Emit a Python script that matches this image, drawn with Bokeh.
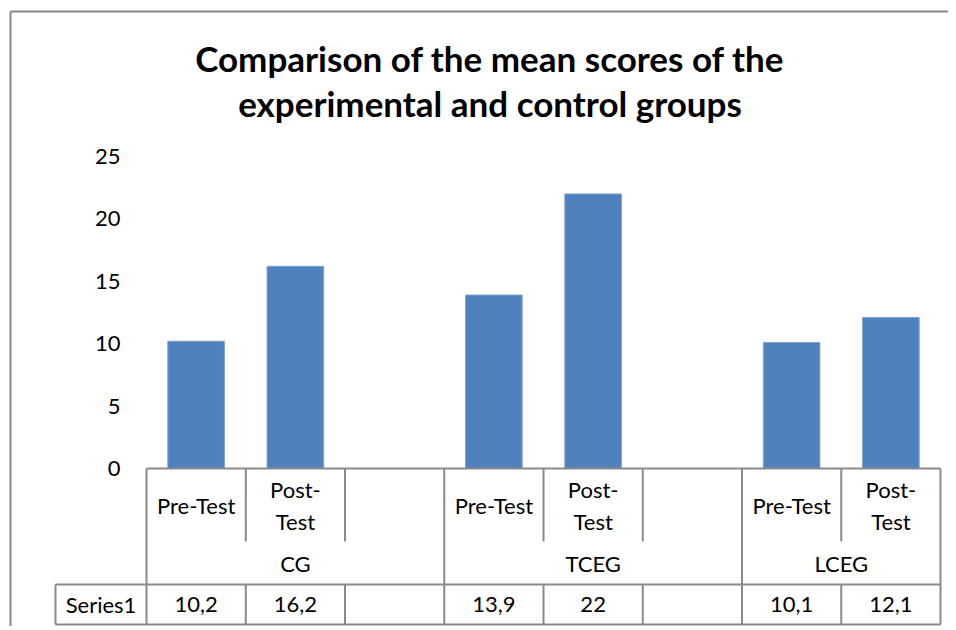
from bokeh.plotting import figure
from bokeh.models import Range1d, FixedTicker
from bokeh.core.properties import value
from bokeh.embed import file_html
from bokeh.resources import INLINE

# ---------------- data ----------------
title_lines = ["Comparison of the mean scores of the", "experimental and control groups"]
groups = ["CG", "TCEG", "LCEG"]
group_sizes = [3, 3, 2]
categories = ["Pre-Test", "Post-Test", "", "Pre-Test", "Post-Test", "", "Pre-Test", "Post-Test"]
values = [10.2, 16.2, None, 13.9, 22.0, None, 10.1, 12.1]
value_labels = ["10,2", "16,2", "", "13,9", "22", "", "10,1", "12,1"]
series_name = "Series1"
y_ticks = [0, 5, 10, 15, 20, 25]

# ---------------- layout (pixel reference) ----------------
W, H = 948, 626
PAGE = 0
SLOT_PX = 99.25     # width of one category slot
X0_PX = 146         # left edge of first slot (page px)
Y0_PX = 468         # y=0 (page px)
UNIT_PX = 12.48     # px per unit of value

def rx(px):
    return (px - X0_PX) / SLOT_PX

def ry(px):
    return (Y0_PX - px) / UNIT_PX

FONT = "Lato"
GRID = "#8a8a8a"
BAR = "#4F81BD"
FS = "22px"

p = figure(width=W, height=H, output_backend="svg", toolbar_location=None,
           x_range=Range1d(rx(PAGE), rx(PAGE + W)),
           y_range=Range1d(ry(PAGE + H), ry(PAGE)),
           min_border=0, x_axis_location=None)
p.outline_line_color = None
p.grid.visible = False
p.background_fill_color = "white"
p.border_fill_color = "white"

# y axis placed inside the frame
ax = p.yaxis[0]
ax.fixed_location = rx(X0_PX - 26)
ax.ticker = FixedTicker(ticks=y_ticks)
ax.axis_line_color = None
ax.major_tick_line_color = None
ax.minor_tick_line_color = None
ax.major_tick_out = 0
ax.major_tick_in = 0
ax.major_label_standoff = 0
ax.major_label_text_font = FONT
ax.major_label_text_font_size = FS
ax.major_label_text_color = "black"

# bars
n = len(categories)
bx = [i + 0.5 for i in range(n) if values[i] is not None]
bt = [v for v in values if v is not None]
p.vbar(x=bx, top=bt, bottom=0, width=0.57, fill_color=BAR, line_color="#7da2d0", line_width=1)

# chart border (top + left)
p.segment(x0=[rx(10), rx(10)], y0=[ry(11), ry(11)], x1=[rx(PAGE + W), rx(10)], y1=[ry(11), ry(PAGE + H)],
          line_color="#878787", line_width=2)

# table lines
bottom = ry(624)
row_top = ry(584)
short_end = ry(541)
bounds = [0]
for s in group_sizes:
    bounds.append(bounds[-1] + s)
x0s, y0s, x1s, y1s = [], [], [], []
x0s += [0, rx(55), rx(55)]
x1s += [n, n, n]
y0s += [0, row_top, bottom]
y1s += [0, row_top, bottom]
for b in range(n + 1):
    if b in bounds:
        x0s.append(b); x1s.append(b); y0s.append(0); y1s.append(bottom)
    else:
        x0s += [b, b]; x1s += [b, b]; y0s += [0, row_top]; y1s += [short_end, bottom]
x0s.append(rx(55)); x1s.append(rx(55)); y0s.append(row_top); y1s.append(bottom)
p.segment(x0=x0s, y0=y0s, x1=x1s, y1=y1s, line_color=GRID, line_width=2)

# category labels
cat_text = [c.replace("Post-Test", "Post-\nTest") for c in categories]
p.text(x=[i + 0.5 for i in range(n)], y=[ry(505)] * n, text=cat_text,
       text_font=value(FONT), text_font_size=FS, text_align="center",
       text_baseline="middle", text_line_height=1.17, text_color="black")

# group labels
gx = [(bounds[i] + bounds[i + 1]) / 2 for i in range(len(groups))]
p.text(x=gx, y=[ry(563)] * len(groups), text=groups,
       text_font=value(FONT), text_font_size=FS, text_align="center",
       text_baseline="middle", text_color="black")

# data table row
p.text(x=[i + 0.5 for i in range(n)] + [rx(100.5)], y=[ry(604)] * (n + 1),
       text=value_labels + [series_name],
       text_font=value(FONT), text_font_size=FS, text_align="center",
       text_baseline="middle", text_color="black")

# title
p.text(x=[rx(489.5)] * 2, y=[ry(57), ry(102)], text=title_lines,
       text_font=value(FONT), text_font_size="35px", text_font_style="bold",
       text_align="center", text_baseline="middle", text_color="black")

open("out.html", "w").write(file_html(p, INLINE))
